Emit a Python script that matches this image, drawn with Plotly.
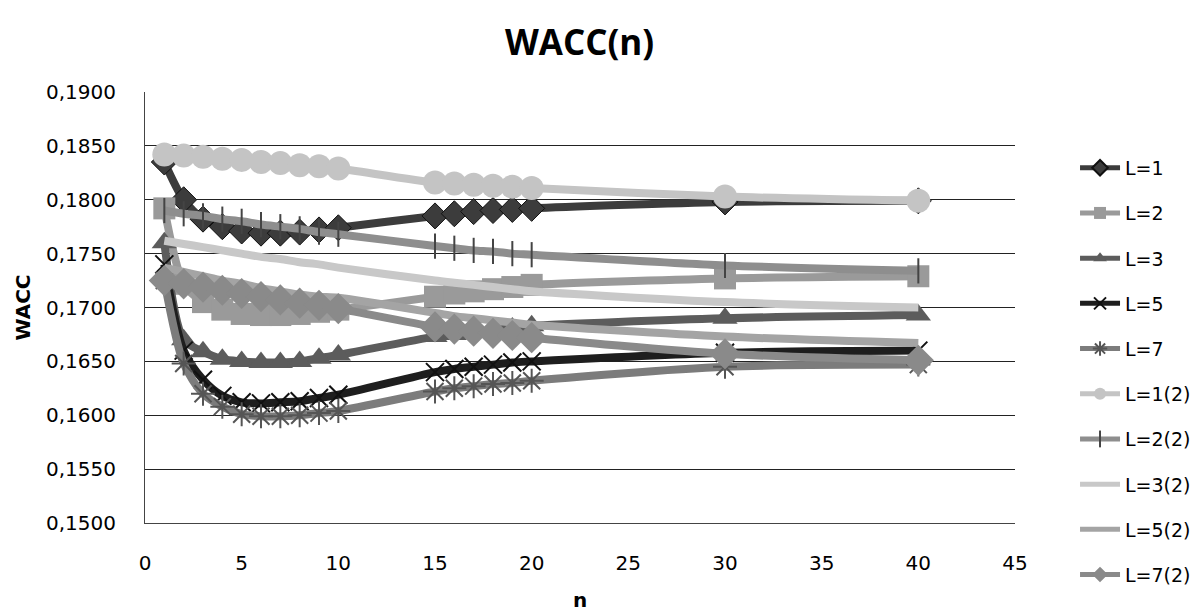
import plotly.graph_objects as go

n = [1, 2, 3, 4, 5, 6, 7, 8, 9, 10, 15, 16, 17, 18, 19, 20, 30, 40]

L1 = [0.1835, 0.1800, 0.1782, 0.1775, 0.1771, 0.1769, 0.1769, 0.1770, 0.1772, 0.1774,
      0.1785, 0.1787, 0.1789, 0.1790, 0.1791, 0.1792, 0.1798, 0.1799]
L2 = [0.1792, 0.1722, 0.1705, 0.1698, 0.1694, 0.1693, 0.1693, 0.1694, 0.1696, 0.1698,
      0.1710, 0.1713, 0.1715, 0.1717, 0.1719, 0.1721, 0.1727, 0.1729]
L3 = [0.1760, 0.1670, 0.1659, 0.1652, 0.1650, 0.1649, 0.1649, 0.1650, 0.1653, 0.1656,
      0.1673, 0.1675, 0.1677, 0.1679, 0.1681, 0.1683, 0.1690, 0.1693]
L5 = [0.1740, 0.1660, 0.1633, 0.1618, 0.1612, 0.1611, 0.1612, 0.1613, 0.1616, 0.1619,
      0.1640, 0.1643, 0.1645, 0.1647, 0.1649, 0.1650, 0.1658, 0.1660]
L7 = [0.1725, 0.1648, 0.1620, 0.1608, 0.1601, 0.1599, 0.1599, 0.1600, 0.1602, 0.1604,
      0.1622, 0.1625, 0.1627, 0.1629, 0.1630, 0.1632, 0.1645, 0.1647]
L1_2 = [0.1842, 0.1841, 0.1840, 0.1838, 0.1837, 0.1835, 0.1834, 0.1832, 0.1831, 0.1829,
        0.1816, 0.1815, 0.1814, 0.1813, 0.1812, 0.1811, 0.1803, 0.1799]
L2_2 = [0.1790, 0.1787, 0.1785, 0.1782, 0.1780, 0.1777, 0.1775, 0.1773, 0.1770, 0.1768,
        0.1757, 0.1755, 0.1753, 0.1752, 0.1750, 0.1749, 0.1739, 0.1734]
L3_2 = [0.1762, 0.1759, 0.1756, 0.1753, 0.1750, 0.1747, 0.1745, 0.1742, 0.1740, 0.1737,
        0.1725, 0.1723, 0.1721, 0.1719, 0.1717, 0.1715, 0.1705, 0.1700]
L5_2 = [0.1737, 0.1733, 0.1729, 0.1725, 0.1722, 0.1718, 0.1715, 0.1712, 0.1710, 0.1709,
        0.1695, 0.1692, 0.1690, 0.1688, 0.1686, 0.1684, 0.1673, 0.1667]
L7_2 = [0.1725, 0.1722, 0.1719, 0.1716, 0.1713, 0.1710, 0.1707, 0.1704, 0.1702, 0.1699,
        0.1682, 0.1680, 0.1678, 0.1676, 0.1674, 0.1672, 0.1657, 0.1651]

series_names = ["L=1", "L=2", "L=3", "L=5", "L=7", "L=1(2)", "L=2(2)", "L=3(2)", "L=5(2)", "L=7(2)"]
series_values = [L1, L2, L3, L5, L7, L1_2, L2_2, L3_2, L5_2, L7_2]

styles = [
    dict(color="#3c3c3c", symbol="diamond", msize=20, mcolor="#3c3c3c", mlw=1, mlc="#111111"),
    dict(color="#9a9a9a", symbol="square", msize=22, mcolor="#9a9a9a", mlw=0, mlc="#9a9a9a"),
    dict(color="#5c5c5c", symbol="triangle-up", msize=22, mcolor="#5c5c5c", mlw=0, mlc="#5c5c5c"),
    dict(color="#1e1e1e", symbol="x-thin", msize=18, mcolor="#111111", mlw=2, mlc="#111111"),
    dict(color="#7c7c7c", symbol="asterisk", msize=20, mcolor="#555555", mlw=2, mlc="#555555"),
    dict(color="#c4c4c4", symbol="circle", msize=24, mcolor="#c4c4c4", mlw=0, mlc="#c4c4c4"),
    dict(color="#8e8e8e", symbol="line-ns", msize=18, mcolor="#444444", mlw=2, mlc="#444444"),
    dict(color="#c8c8c8", symbol=None, msize=0, mcolor="#c8c8c8", mlw=0, mlc="#c8c8c8"),
    dict(color="#a4a4a4", symbol=None, msize=0, mcolor="#a4a4a4", mlw=0, mlc="#a4a4a4"),
    dict(color="#8a8a8a", symbol="diamond", msize=24, mcolor="#8a8a8a", mlw=0, mlc="#8a8a8a"),
]

fig = go.Figure()
for i, (name, vals, st) in enumerate(zip(series_names, series_values, styles)):
    if st["symbol"] is None:
        mode = "lines"
        marker = None
    else:
        mode = "lines+markers"
        marker = dict(symbol=st["symbol"], size=st["msize"], color=st["mcolor"],
                      line=dict(width=st["mlw"], color=st["mlc"]))
    fig.add_trace(go.Scatter(
        x=n, y=vals, name=name, mode=mode, marker=marker,
        line=dict(color=st["color"], width=8, shape="spline", smoothing=0.8),
        legendgroup=f"g{i}",
    ))

TICKFONT = dict(family="DejaVu Sans", size=20, color="black")

fig.update_layout(
    width=1195, height=613,
    paper_bgcolor="white", plot_bgcolor="white",
    separators=",.",
    margin=dict(l=145, r=180, t=92, b=90, autoexpand=False),
    title=dict(text="<b>WACC(n)</b>", x=0.485, xanchor="center", y=0.93, yanchor="middle",
               font=dict(family="Open Sans", size=35, color="black")),
    font=dict(family="DejaVu Sans", color="black"),
    xaxis=dict(range=[0, 45], tickmode="linear", tick0=0, dtick=5, showgrid=False,
               showline=True, linecolor="#444444", linewidth=1, ticks="",
               tickfont=TICKFONT, ticklabelstandoff=22,
               title=dict(text="<b>n</b>", font=dict(family="DejaVu Sans", size=20), standoff=18),
               zeroline=False, automargin=False),
    yaxis=dict(range=[0.15, 0.19], tickmode="linear", tick0=0.15, dtick=0.005,
               tickformat=".4f", showgrid=True, gridcolor="#222222", gridwidth=1,
               showline=True, linecolor="#444444", linewidth=1, ticks="",
               tickfont=TICKFONT, ticklabelstandoff=24,
               title=dict(text="<b>WACC</b>", font=dict(family="DejaVu Sans", size=20), standoff=10),
               zeroline=False, automargin=False),
    legend=dict(x=1.069, xanchor="left", y=0.868, yanchor="top",
                maxheight=480,
                font=dict(family="DejaVu Sans", size=19, color="black"), tracegroupgap=17.5,
                itemwidth=40, itemsizing="constant", bgcolor="rgba(0,0,0,0)"),
    showlegend=True,
)

fig.write_html("out.html")
